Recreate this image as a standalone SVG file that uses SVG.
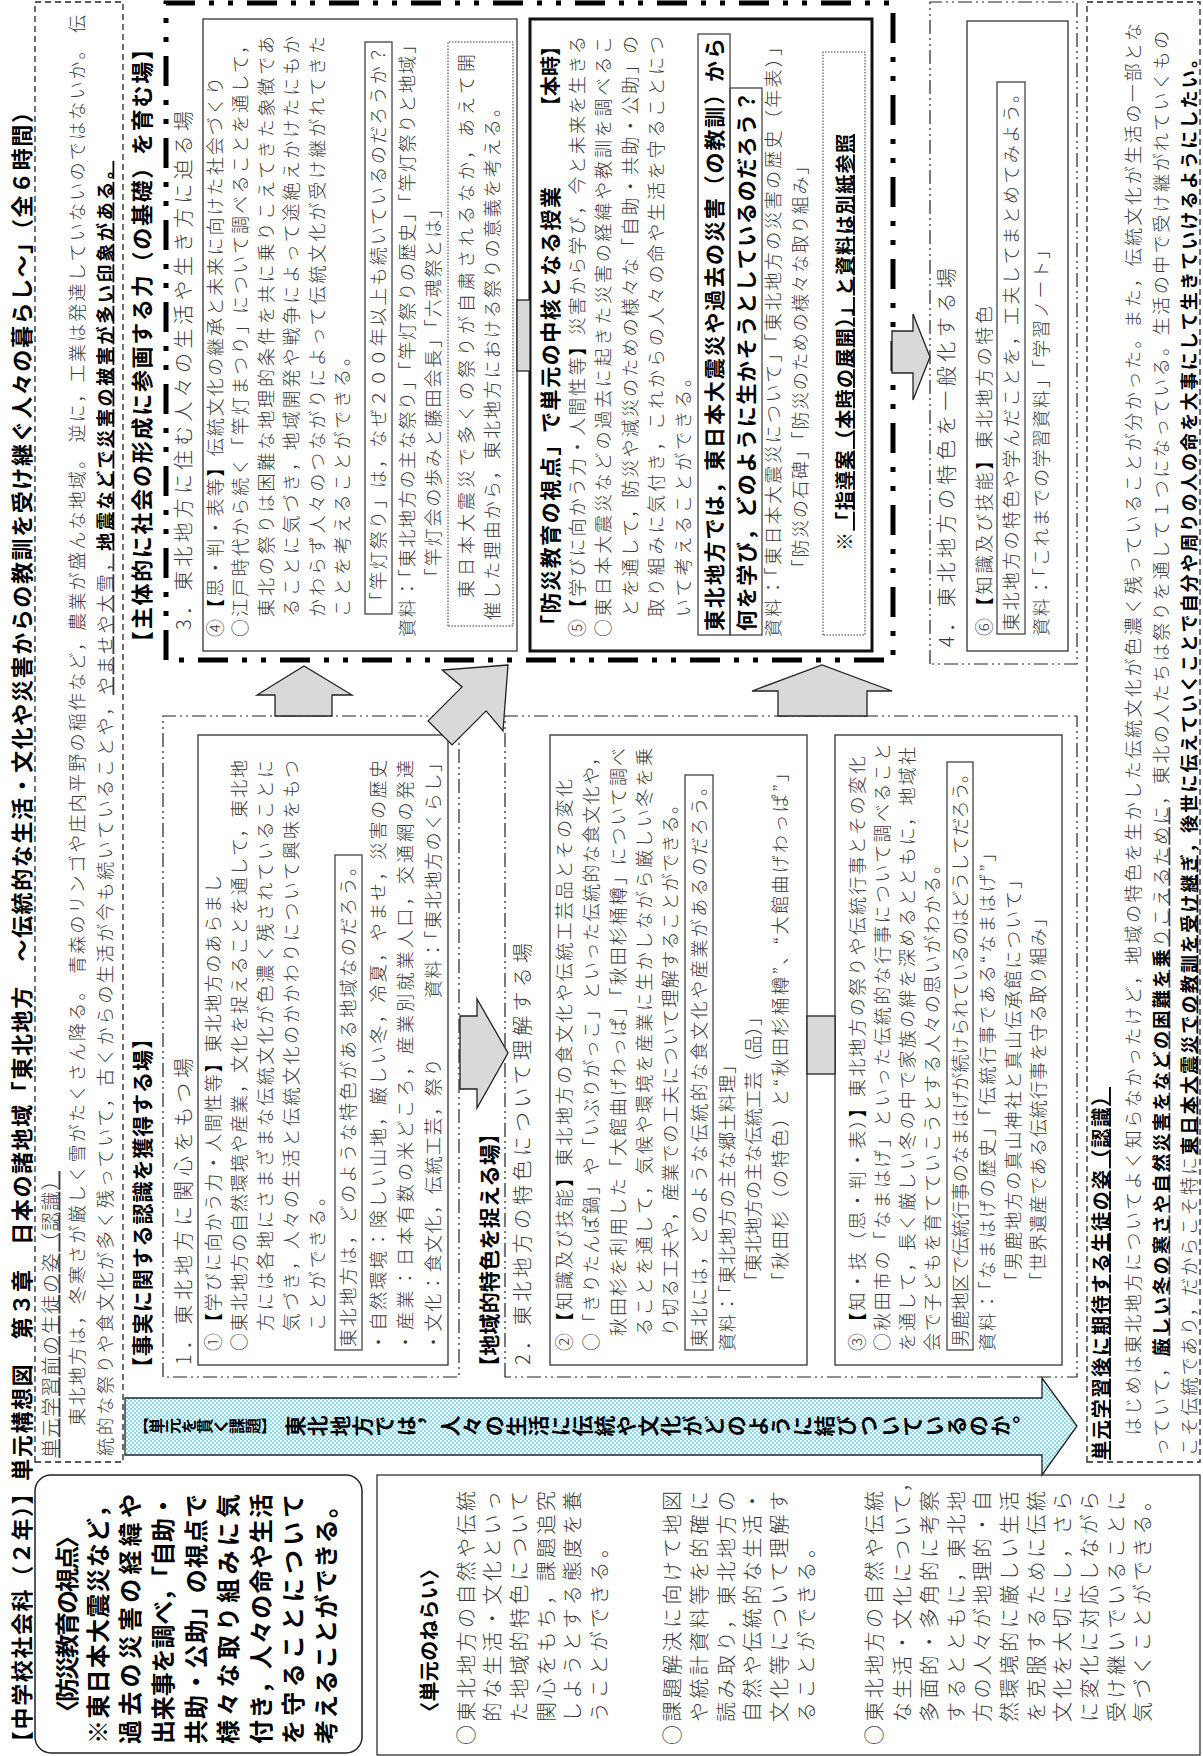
<svg xmlns="http://www.w3.org/2000/svg" width="1203" height="1756" viewBox="0 0 1203 1756">
<defs>
<style>
text{font-family:"Noto Sans CJK JP","Noto Sans CJK SC",sans-serif;}
.t{font-size:18px;fill:#3a3a3a;font-weight:300}
.s{font-size:20px;fill:#3a3a3a;font-weight:300}
.h{font-weight:bold;fill:#000;font-size:21px}
.k{font-weight:bold;fill:#000}
.u{text-decoration:underline}
.bx{fill:none;stroke:#333;stroke-width:1.3}
.q{fill:none;stroke:#444;stroke-width:1.3}
.dash{fill:none;stroke:#222;stroke-width:1.3;stroke-dasharray:6 4}
.dd{fill:none;stroke:#222;stroke-width:1.2;stroke-dasharray:14 4 2 4 2 4}
.thick{fill:none;stroke:#000;stroke-width:5;stroke-dasharray:30 14 5 14 5 14}
.dot{fill:none;stroke:#333;stroke-width:1;stroke-dasharray:1.5 1.5}
.arr{fill:#d9d9d9;stroke:#222;stroke-width:1.3}
.bo{font-weight:bold;fill:#000;font-size:24px}
</style>
<pattern id="dots" width="4" height="4" patternUnits="userSpaceOnUse">
<rect width="4" height="4" fill="#fff"/>
<circle cx="1" cy="1" r="1" fill="#5cd0ea"/>
<circle cx="3" cy="3" r="1" fill="#5cd0ea"/>
</pattern>
</defs>
<rect width="1203" height="1756" fill="#fff"/>
<g transform="translate(0,1756) rotate(-90)">

<g id="title">
<text class="h" x="3" y="30" style="font-size:22px" textLength="1652" lengthAdjust="spacing">【中学校社会科（２年）】単元構想図　第３章　日本の諸地域「東北地方　～伝統的な生活・文化や災害からの教訓を受け継ぐ人々の暮らし～」（全６時間）</text>
</g>

<g id="before">
<rect class="dash" x="294" y="35" width="1460" height="88"/>
<text class="t u" x="298" y="57.5" style="font-size:19px" textLength="287" lengthAdjust="spacing">単元学習前の生徒の姿（認識）</text>
<text class="t" x="310" y="83.5" textLength="1431" lengthAdjust="spacing">　東北地方は，冬寒さが厳しく雪がたくさん降る。 青森のリンゴや庄内平野の稲作など，農業が盛んな地域。 逆に，工業は発達していないのではないか。 伝</text>
<text class="t" x="300" y="111.5" textLength="1295" lengthAdjust="spacing">統的な祭りや食文化が多く残っていて，古くからの生活が今も続いていることや，<tspan class="u">やませや大雪，</tspan><tspan class="u k">地震などで災害の被害が多い印象がある。</tspan></text>
</g>

<g id="bousai">
<rect x="3" y="35" width="278" height="327" rx="16" fill="none" stroke="#222" stroke-width="1.5"/>
<text class="bo" x="32" y="75.8" textLength="200" lengthAdjust="spacing">〈防災教育の視点〉</text>
<text class="bo" x="12" y="106.8" textLength="250" lengthAdjust="spacing">※東日本大震災など，</text>
<text class="bo" x="12" y="139.4" textLength="250" lengthAdjust="spacing">過去の災害の経緯や</text>
<text class="bo" x="12" y="172" textLength="250" lengthAdjust="spacing">出来事を調べ，「自助・</text>
<text class="bo" x="12" y="204.6" textLength="250" lengthAdjust="spacing">共助・公助」の視点で</text>
<text class="bo" x="12" y="237.2" textLength="250" lengthAdjust="spacing">様々な取り組みに気</text>
<text class="bo" x="12" y="269.8" textLength="250" lengthAdjust="spacing">付き，人々の命や生活</text>
<text class="bo" x="12" y="302.4" textLength="250" lengthAdjust="spacing">を守ることについて</text>
<text class="bo" x="12" y="335" textLength="250" lengthAdjust="spacing">考えることができる。</text>
</g>

<g id="aims">
<rect class="bx" x="1" y="377" width="280" height="823"/>
<text class="s k" x="34" y="437.3" textLength="163" lengthAdjust="spacing">〈単元のねらい〉</text>
<text class="s" x="11" y="474.3" textLength="254" lengthAdjust="spacing">○東北地方の自然や伝統</text>
<text class="s" x="34" y="500.3" textLength="231" lengthAdjust="spacing">的な生活・文化といっ</text>
<text class="s" x="34" y="527.3" textLength="231" lengthAdjust="spacing">た地域的特色について</text>
<text class="s" x="34" y="554.3" textLength="231" lengthAdjust="spacing">関心をもち，課題追究</text>
<text class="s" x="34" y="580.3" textLength="231" lengthAdjust="spacing">しようとする態度を養</text>
<text class="s" x="34" y="607.3" textLength="184" lengthAdjust="spacing">うことができる。</text>
<text class="s" x="11" y="680.3" textLength="254" lengthAdjust="spacing">○課題解決に向けて地図</text>
<text class="s" x="34" y="707.3" textLength="231" lengthAdjust="spacing">や統計資料等を的確に</text>
<text class="s" x="34" y="734.3" textLength="231" lengthAdjust="spacing">読み取り，東北地方の</text>
<text class="s" x="34" y="760.3" textLength="231" lengthAdjust="spacing">自然や伝統的な生活・</text>
<text class="s" x="34" y="787.3" textLength="231" lengthAdjust="spacing">文化等について理解す</text>
<text class="s" x="34" y="814.3" textLength="184" lengthAdjust="spacing">ることができる。</text>
<text class="s" x="11" y="882.3" textLength="254" lengthAdjust="spacing">○東北地方の自然や伝統</text>
<text class="s" x="34" y="910.3" textLength="250" lengthAdjust="spacing">な生活・文化について，</text>
<text class="s" x="34" y="937.3" textLength="231" lengthAdjust="spacing">多面的・多角的に考察</text>
<text class="s" x="34" y="964.3" textLength="231" lengthAdjust="spacing">するとともに，東北地</text>
<text class="s" x="34" y="990.3" textLength="231" lengthAdjust="spacing">方の人々が地理的・自</text>
<text class="s" x="34" y="1017.3" textLength="231" lengthAdjust="spacing">然環境的に厳しい生活</text>
<text class="s" x="34" y="1044.3" textLength="231" lengthAdjust="spacing">を克服するために伝統</text>
<text class="s" x="34" y="1070.3" textLength="231" lengthAdjust="spacing">文化を大切にし，さら</text>
<text class="s" x="34" y="1097.3" textLength="231" lengthAdjust="spacing">に変化に対応しながら</text>
<text class="s" x="34" y="1124.3" textLength="231" lengthAdjust="spacing">受け継いでいることに</text>
<text class="s" x="34" y="1150.3" textLength="231" lengthAdjust="spacing">気づくことができる。</text>
</g>

<g id="task">
<path d="M301,125 H358 V1042 H378 L330,1077 L281,1042 H301 Z" fill="url(#dots)" stroke="#222" stroke-width="1.3"/>
<text class="k" x="330" y="133" style="writing-mode:vertical-rl;font-size:16px">【単元を貫く課題】</text>
<text class="k" x="330" y="285" style="writing-mode:vertical-rl;font-size:21px" textLength="748" lengthAdjust="spacing">東北地方では，人々の生活に伝統や文化がどのように結びついているのか。</text>
</g>

<g id="section1">
<text class="h" x="378" y="150" textLength="350" lengthAdjust="spacing">【事実に関する認識を獲得する場】</text>
<rect class="dd" x="379" y="163" width="661" height="296"/>
<text class="s" x="391" y="190.5" textLength="307" lengthAdjust="spacing">1．東北地方に関心をもつ場</text>
</g>

<g id="box1">
<rect class="bx" x="391" y="198" width="630" height="250"/>
<text class="t" x="405" y="219.5" textLength="476" lengthAdjust="spacing">①<tspan class="k">【</tspan>学びに向かう力・人間性等<tspan class="k">】</tspan>東北地方のあらまし</text>
<text class="t" x="405" y="245.5" textLength="591" lengthAdjust="spacing">○東北地方の自然環境や産業，文化を捉えることを通して，東北地</text>
<text class="t" x="425" y="271.5" textLength="571" lengthAdjust="spacing">方には各地にさまざまな伝統文化が色濃く残されていることに</text>
<text class="t" x="425" y="297.5" textLength="571" lengthAdjust="spacing">気づき，人々の生活と伝統文化のかかわりについて興味をもつ</text>
<text class="t" x="425" y="323.5" textLength="143" lengthAdjust="spacing">ことができる。</text>
<rect class="q" x="406" y="335" width="495" height="27"/>
<text class="t" x="409" y="354.5" textLength="489" lengthAdjust="spacing">東北地方は，どのような特色がある地域なのだろう。</text>
<text class="t" x="405" y="384.5" textLength="591" lengthAdjust="spacing">・自然環境：険しい山地，厳しい冬，冷夏，やませ，災害の歴史</text>
<text class="t" x="405" y="411.5" textLength="591" lengthAdjust="spacing">・産業：日本有数の米どころ，産業別就業人口，交通網の発達</text>
<text class="t" x="405" y="439.5" textLength="597" lengthAdjust="spacing">・文化：食文化，伝統工芸，祭り　　　資料：「東北地方のくらし」</text>
</g>

<g id="section2">
<text class="h" x="379" y="497" textLength="254" lengthAdjust="spacing">【地域的特色を捉える場】</text>
<rect class="dd" x="379" y="505" width="661" height="572"/>
<text class="s" x="391" y="529.5" textLength="422" lengthAdjust="spacing">2．東北地方の特色について理解する場</text>
</g>

<g id="box2">
<rect class="bx" x="391" y="550" width="630" height="257"/>
<text class="t" x="405" y="570.5" textLength="572" lengthAdjust="spacing">②<tspan class="k">【</tspan>知識及び技能<tspan class="k">】</tspan>東北地方の食文化や伝統工芸品とその変化</text>
<text class="t" x="405" y="597.5" textLength="603" lengthAdjust="spacing">○「きりたんぽ鍋」や「いぶりがっこ」といった伝統的な食文化や，</text>
<text class="t" x="420" y="624.5" textLength="588" lengthAdjust="spacing">秋田杉を利用した「大館曲げわっぱ」「秋田杉桶樽」について調べ</text>
<text class="t" x="420" y="650.5" textLength="588" lengthAdjust="spacing">ることを通して，気候や環境を産業に生かしながら厳しい冬を乗</text>
<text class="t" x="420" y="676.5" textLength="540" lengthAdjust="spacing">り切る工夫や，産業での工夫について理解することができる。</text>
<rect class="q" x="406" y="685" width="575" height="28"/>
<text class="t" x="409" y="705.5" textLength="569" lengthAdjust="spacing">東北には，どのような伝統的な食文化や産業があるのだろう。</text>
<text class="t" x="405" y="733.5" textLength="295" lengthAdjust="spacing">資料：「東北地方の主な郷土料理」</text>
<text class="t" x="466" y="759.5" textLength="282" lengthAdjust="spacing">「東北地方の主な伝統工芸（品）」</text>
<text class="t" x="466" y="786.5" textLength="526" lengthAdjust="spacing">「秋田杉（の特色）と“秋田杉桶樽”、“大館曲げわっぱ”」</text>
</g>

<g id="box3">
<rect class="bx" x="391" y="835" width="630" height="227"/>
<text class="t" x="405" y="863.5" textLength="595" lengthAdjust="spacing">③<tspan class="k">【</tspan>知・技（思・判・表）<tspan class="k">】</tspan>東北地方の祭りや伝統行事とその変化</text>
<text class="t" x="405" y="888.5" textLength="608" lengthAdjust="spacing">○秋田市の「なまはげ」といった伝統的な行事について調べること</text>
<text class="t" x="405" y="913.5" textLength="604" lengthAdjust="spacing">を通して，長く厳しい冬の中で家族の絆を深めるとともに，地域社</text>
<text class="t" x="405" y="938.5" textLength="495" lengthAdjust="spacing">会で子どもを育てていこうとする人々の思いがわかる。</text>
<rect class="q" x="406" y="947" width="588" height="26"/>
<text class="t" x="409" y="966.5" textLength="582" lengthAdjust="spacing">男鹿地区で伝統行事のなまはげが続けられているのはどうしてだろう。</text>
<text class="t" x="405" y="993.5" textLength="507" lengthAdjust="spacing">資料：「なまはげの歴史」「伝統行事である“なまはげ”」</text>
<text class="t" x="466" y="1019.5" textLength="419" lengthAdjust="spacing">「男鹿地方の真山神社と真山伝承館について」</text>
<text class="t" x="466" y="1044.5" textLength="381" lengthAdjust="spacing">「世界遺産である伝統行事を守る取り組み」</text>
</g>

<g id="section3">
<text class="h" x="1103" y="150" style="font-size:22px" textLength="615" lengthAdjust="spacing">【主体的に社会の形成に参画する力（の基礎）を育む場】</text>
<rect class="thick" x="1096" y="166" width="657" height="727"/>
<text class="s" x="1126" y="190.5" textLength="519" lengthAdjust="spacing">3．東北地方に住む人々の生活や生き方に迫る場</text>
</g>

<g id="box4">
<rect class="bx" x="1105" y="203" width="632" height="314"/>
<text class="t" x="1119" y="221.5" textLength="560" lengthAdjust="spacing">④<tspan class="k">【</tspan>思・判・表等<tspan class="k">】</tspan>伝統文化の継承と未来に向けた社会づくり</text>
<text class="t" x="1119" y="247" textLength="601" lengthAdjust="spacing">○江戸時代から続く「竿灯まつり」について調べることを通して，</text>
<text class="t" x="1139" y="272.5" textLength="581" lengthAdjust="spacing">東北の祭りは困難な地理的条件を共に乗りこえてきた象徴であ</text>
<text class="t" x="1139" y="298" textLength="581" lengthAdjust="spacing">ることに気づき，地域開発や戦争によって途絶えかけたにもか</text>
<text class="t" x="1139" y="323.5" textLength="581" lengthAdjust="spacing">かわらず人々のつながりによって伝統文化が受け継がれてきた</text>
<text class="t" x="1139" y="349" textLength="269" lengthAdjust="spacing">ことを考えることができる。</text>
<rect class="q" x="1142" y="365" width="572" height="27"/>
<text class="t" x="1146" y="384.5" textLength="564" lengthAdjust="spacing">「竿灯祭り」は，なぜ２００年以上も続いているのだろうか？</text>
<text class="t" x="1119" y="413.5" textLength="601" lengthAdjust="spacing">資料：「東北地方の主な祭り」「竿灯祭りの歴史」「竿灯祭りと地域」</text>
<text class="t" x="1170" y="439.5" textLength="386" lengthAdjust="spacing">「竿灯会の歩みと藤田会長」「六魂祭とは」</text>
<rect class="dot" x="1130" y="448" width="584" height="65"/>
<text class="t" x="1158" y="472.5" textLength="544" lengthAdjust="spacing">東日本大震災で多くの祭りが自粛されるなか，あえて開</text>
<text class="t" x="1136" y="498.5" textLength="521" lengthAdjust="spacing">催した理由から，東北地方における祭りの意義を考える。</text>
</g>

<g id="box5">
<rect x="1105" y="530" width="632" height="342" fill="none" stroke="#111" stroke-width="3"/>
<text class="h" x="1120" y="558" textLength="449" lengthAdjust="spacing">「防災教育の視点」で単元の中核となる授業</text>
<text class="h" x="1640" y="558" style="font-size:20px">【本時】</text>
<text class="t" x="1119" y="583.5" textLength="601" lengthAdjust="spacing">⑤<tspan class="k">【</tspan>学びに向かう力・人間性等<tspan class="k">】</tspan>災害から学び，今と未来を生きる</text>
<text class="t" x="1119" y="609.5" textLength="601" lengthAdjust="spacing">○東日本大震災などの過去に起きた災害の経緯や教訓を調べるこ</text>
<text class="t" x="1139" y="636.5" textLength="581" lengthAdjust="spacing">とを通して，防災や減災のための様々な「自助・共助・公助」の</text>
<text class="t" x="1139" y="662.5" textLength="581" lengthAdjust="spacing">取り組みに気付き，これからの人々の命や生活を守ることにつ</text>
<text class="t" x="1139" y="689.5" textLength="248" lengthAdjust="spacing">いて考えることができる。</text>
<rect class="q" x="1121" y="698" width="601" height="32"/>
<rect class="q" x="1121" y="730" width="547" height="32"/>
<text class="h" x="1125" y="721.5" textLength="593" lengthAdjust="spacing">東北地方では，東日本大震災や過去の災害（の教訓）から</text>
<text class="h" x="1125" y="753.5" textLength="540" lengthAdjust="spacing">何を学び，どのように生かそうとしているのだろう？</text>
<text class="t" x="1119" y="779.5" textLength="599" lengthAdjust="spacing">資料：「東日本大震災について」「東北地方の災害の歴史（年表）」</text>
<text class="t" x="1179" y="806.5" textLength="420" lengthAdjust="spacing">「防災の石碑」「防災のための様々な取り組み」</text>
<rect class="dot" x="1121" y="823" width="583" height="42"/>
<text class="h" x="1205" y="852" style="font-size:19px" textLength="417" lengthAdjust="spacing">※<tspan class="u">「指導案（本時の展開）」と資料は別紙参照</tspan></text>
</g>

<g id="section4">
<rect class="dd" x="1092" y="930" width="662" height="147"/>
<text class="s" x="1109" y="953.5" textLength="379" lengthAdjust="spacing">4．東北地方の特色を一般化する場</text>
</g>

<g id="box6">
<rect class="bx" x="1105" y="967" width="630" height="101"/>
<text class="t" x="1120" y="990.5" textLength="330" lengthAdjust="spacing">⑥<tspan class="k">【</tspan>知識及び技能<tspan class="k">】</tspan>東北地方の特色</text>
<rect class="q" x="1122" y="997" width="552" height="28"/>
<text class="t" x="1125" y="1017.5" textLength="546" lengthAdjust="spacing">東北地方の特色や学んだことを，工夫してまとめてみよう。</text>
<text class="t" x="1120" y="1047.5" textLength="395" lengthAdjust="spacing">資料：「これまでの学習資料」「学習ノート」</text>
</g>

<g id="after">
<rect class="dash" x="294" y="1087" width="1460" height="113"/>
<text class="k u" x="296" y="1108" style="font-size:19px" textLength="373" lengthAdjust="spacing">単元学習後に期待する生徒の姿（認識）</text>
<text class="t" x="300" y="1139.5" textLength="1433" lengthAdjust="spacing">　はじめは東北地方についてよく知らなかったけど，地域の特色を生かした伝統文化が色濃く残っていることが分かった。また，伝統文化が生活の一部とな</text>
<text class="t" x="300" y="1167.5" textLength="1425" lengthAdjust="spacing">っていて，<tspan class="u"><tspan class="k">厳しい冬の寒さや自然災害をなどの困難を乗</tspan>りこえるために</tspan>，東北の人たちは祭りを通して１つになっている。生活の中で受け継がれていくもの</text>
<text class="t" x="300" y="1195.5" textLength="1406" lengthAdjust="spacing">こそ伝統であり，だからこそ特に<tspan class="k u">東日本大震災での教訓を受け継ぎ</tspan><tspan class="k">，後世に伝えていくことで自分や周りの人の命を大事にして生きていけるようにしたい。</tspan></text>
</g>

<g id="connectors">
<path class="arr" d="M1040,275 L1061,275 L1061,257 L1090,304 L1061,352 L1061,332 L1040,332 Z"/>
<path class="arr" d="M1091,508 L1086,442.2 L1069.1,462.1 L1035.1,428.1 L1011.1,452.1 L1045.1,486.1 L1025.2,503 Z"/>
<path class="arr" d="M1040,778 L1065,778 L1065,752 L1091,822 L1065,892 L1065,867 L1040,867 Z"/>
<path class="arr" d="M667,460 L740,460 L740,477 L757,477 L703,508 L648,477 L667,477 Z"/>
<path class="arr" d="M1383,892 L1425,892 L1425,913 L1442,913 L1399,930 L1356,913 L1383,913 Z"/>
<rect class="arr" x="1385" y="517" width="71" height="13"/>
<rect class="arr" x="682" y="807" width="58" height="28"/>
</g>

</g>
</svg>
